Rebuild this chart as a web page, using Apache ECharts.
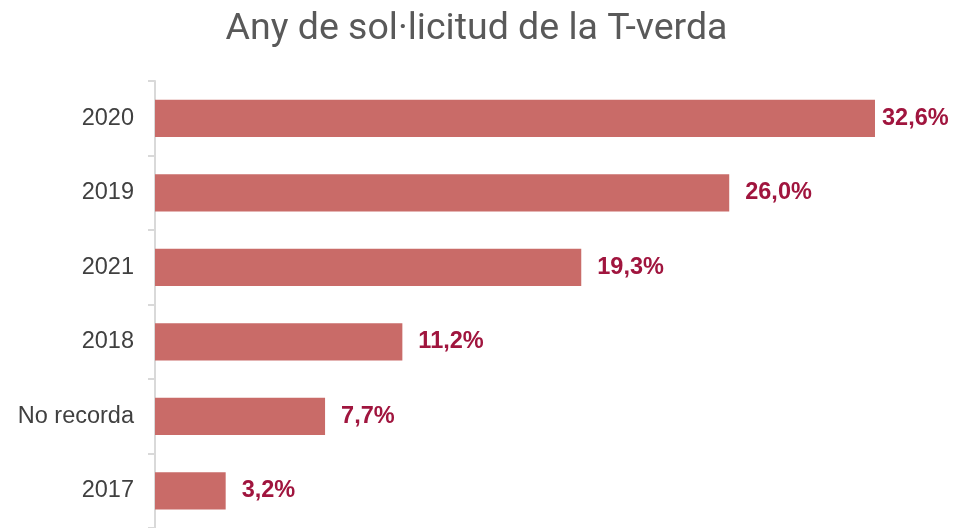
<!DOCTYPE html>
<html>
<head>
<meta charset="utf-8">
<script src="https://cdn.jsdelivr.net/npm/echarts@6/dist/echarts.min.js"></script>
<style>
  html, body { margin: 0; padding: 0; background: #fff; }
  #container1 { width: 953px; height: 528px; }
</style>
</head>
<body>
<div id="container1"></div>
<script>
// categories, top to bottom
var categories = ['2020', '2019', '2021', '2018', 'No recorda', '2017'];
// percentages
var values = [32.6, 26.0, 19.3, 11.2, 7.7, 3.2];

function fmt(v) {
    return v.toFixed(1).replace('.', ',') + '%';
}

var myChart = echarts.init(document.getElementById('container1'));

// the longest bar has its label pulled in closer to fit
var maxVal = Math.max.apply(null, values);
var seriesData = values.map(function (v) {
    if (v === maxVal) {
        return { value: v, label: { distance: 7 } };
    }
    return v;
});

var option = {
    animation: false,
    title: {
        text: 'Any de sol·licitud de la T-verda',
        left: 'center',
        top: 6,
        textStyle: {
            fontFamily: 'Roboto',
            fontWeight: 'normal',
            fontSize: 37.5,
            color: '#595959'
        }
    },
    grid: {
        left: 155,
        right: 25,
        top: 81,
        height: 450
    },
    xAxis: {
        type: 'value',
        min: 0,
        max: 35,
        show: false
    },
    yAxis: {
        type: 'category',
        inverse: true,
        data: categories,
        axisLine: {
            show: true,
            lineStyle: { color: '#D9D9D9', width: 2 }
        },
        axisTick: {
            show: true,
            length: 7,
            lineStyle: { color: '#D9D9D9', width: 2 }
        },
        axisLabel: {
            margin: 21,
            fontFamily: 'Arial, Liberation Sans',
            fontSize: 23.5,
            color: '#404040'
        }
    },
    series: [
        {
            type: 'bar',
            data: seriesData,
            barWidth: '50%',
            itemStyle: { color: '#C96B68' },
            label: {
                show: true,
                position: 'right',
                distance: 16,
                formatter: function (p) { return fmt(p.value); },
                fontFamily: 'Arial, Liberation Sans',
                fontWeight: 'bold',
                fontSize: 23.5,
                color: '#A0153E'
            }
        }
    ]
};
myChart.setOption(option);
</script>
</body>
</html>
